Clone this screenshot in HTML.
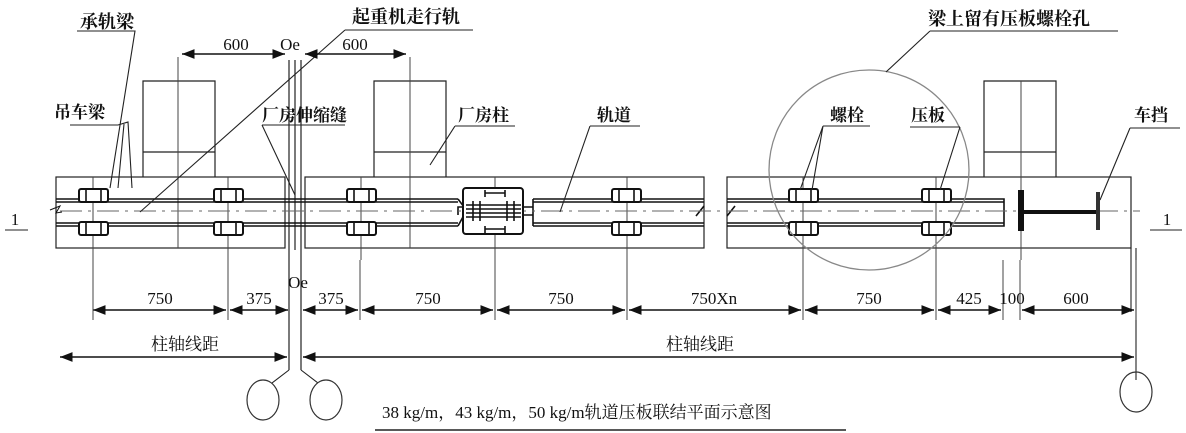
<!DOCTYPE html><html><head><meta charset="utf-8"><style>html,body{margin:0;padding:0;background:#fff}svg{display:block}text{font-family:"Liberation Serif","Noto Serif CJK SC","Noto Sans CJK SC",serif;fill:#111}</style></head><body>
<svg width="1186" height="433" viewBox="0 0 1186 433" xmlns="http://www.w3.org/2000/svg">
<defs><marker id="a" markerWidth="9" markerHeight="7" refX="9" refY="3.5" orient="auto-start-reverse"><path d="M0,0L9,3.5L0,7z" fill="#111"/></marker></defs>
<g stroke="#222" fill="none" stroke-width="1.2">
<rect x="56" y="177" width="229" height="71"/>
<rect x="305" y="177" width="399" height="71"/>
<rect x="727" y="177" width="404" height="71"/>
<path d="M143,177V81H215V177M143,152H215"/>
<path d="M374,177V81H446V177M374,152H446"/>
<path d="M984,177V81H1056V177M984,152H1056"/>
<path d="M178,57V248M410,57V248M1021,81V260M93,177V260M228,177V260M361,177V260M495,177V260M627,177V260M803,177V260M936,177V260" stroke="#444" stroke-width="1"/>
<path d="M289,60V370M295,60V250M301,60V370" stroke="#222"/>
<g stroke="#111" stroke-width="1.6">
<path d="M56,199H458M56,202H458M56,223H458M56,226H458"/>
<path d="M458,199L464,207H533M458,226L464,215H533M464,207H458V215" />
<path d="M533,199H704M533,202H704M533,223H704M533,226H704M533,199V226"/>
<path d="M727,199H1004V226H727M727,202H1004M727,223H1004"/>
<path d="M50,210L60,206L56,213L62,212" stroke-width="1"/>
<path d="M696,216L704,206M727,216L735,206"/>
</g>
<path d="M60,211H1140" stroke="#666" stroke-dasharray="22,6,3,6" stroke-width="1"/>
</g>
<g stroke="#111" stroke-width="2" fill="#fff">
<rect x="79" y="189" width="29" height="13" rx="2"/><rect x="79" y="222" width="29" height="13" rx="2"/>
<rect x="214" y="189" width="29" height="13" rx="2"/><rect x="214" y="222" width="29" height="13" rx="2"/>
<rect x="347" y="189" width="29" height="13" rx="2"/><rect x="347" y="222" width="29" height="13" rx="2"/>
<rect x="612" y="189" width="29" height="13" rx="2"/><rect x="612" y="222" width="29" height="13" rx="2"/>
<rect x="789" y="189" width="29" height="13" rx="2"/><rect x="789" y="222" width="29" height="13" rx="2"/>
<rect x="922" y="189" width="29" height="13" rx="2"/><rect x="922" y="222" width="29" height="13" rx="2"/>
<rect x="463" y="188" width="60" height="46" rx="3"/>
</g>
<g stroke="#111" stroke-width="1.6">
<path d="M86,190V201M101,190V201M86,223V234M101,223V234M221,190V201M236,190V201M221,223V234M236,223V234M354,190V201M369,190V201M354,223V234M369,223V234M619,190V201M634,190V201M619,223V234M634,223V234M796,190V201M811,190V201M796,223V234M811,223V234M929,190V201M944,190V201M929,223V234M944,223V234"/>
<path d="M466,205H521M466,209H521M466,213H521M466,217H521M473,201V221M480,201V221M507,201V221M514,201V221M485,193H505M485,229H505M485,190V197M505,190V197M485,226V233M505,226V233"/>
</g>
<rect x="1018" y="190" width="6" height="41" fill="#111"/>
<rect x="1024" y="210" width="72" height="4" fill="#111"/>
<rect x="1096" y="192" width="4" height="38" fill="#333"/>
<circle cx="869" cy="170" r="100" fill="none" stroke="#888" stroke-width="1.3"/>
<g stroke="#222" stroke-width="1.1" fill="none">
<path d="M77,31H135L110,188"/>
<path d="M345,30H473M345,30L140,212"/>
<path d="M70,125H118L128,122L132,188M124,124L118,188"/>
<path d="M262,125H345M262,125L295,195"/>
<path d="M455,126H515M455,126L430,165"/>
<path d="M590,126H640M590,126L560,212"/>
<path d="M930,31H1118M930,31L886,72"/>
<path d="M823,126H870M823,126L800,190M823,126L812,190"/>
<path d="M910,127H960M960,127L940,190"/>
<path d="M1130,128H1180M1130,128L1100,200"/>
<path d="M5,230H28M1150,230H1182"/>
<path d="M1131,248V312M1136,248V380"/>
<path d="M289,370L272,383M301,370L318,383"/>
<path d="M375,430H846" stroke-width="1.4"/>
</g>
<g stroke="#111" stroke-width="1.4" fill="none">
<path d="M182,54H285" marker-start="url(#a)" marker-end="url(#a)"/>
<path d="M305,54H406" marker-start="url(#a)" marker-end="url(#a)"/>
<path d="M93,310H226" marker-start="url(#a)" marker-end="url(#a)"/>
<path d="M230,310H288" marker-start="url(#a)" marker-end="url(#a)"/>
<path d="M303,310H358" marker-start="url(#a)" marker-end="url(#a)"/>
<path d="M362,310H493" marker-start="url(#a)" marker-end="url(#a)"/>
<path d="M497,310H625" marker-start="url(#a)" marker-end="url(#a)"/>
<path d="M629,310H801" marker-start="url(#a)" marker-end="url(#a)"/>
<path d="M805,310H934" marker-start="url(#a)" marker-end="url(#a)"/>
<path d="M938,310H1001" marker-start="url(#a)" marker-end="url(#a)"/>
<path d="M1022,310H1134" marker-start="url(#a)" marker-end="url(#a)"/>
<path d="M60,357H287" marker-start="url(#a)" marker-end="url(#a)"/>
<path d="M303,357H1134" marker-start="url(#a)" marker-end="url(#a)"/>
<path d="M1003,260V320M1020,260V320M1136,260V320M93,260V320M228,260V320M360,260V320M495,260V320M627,260V320M803,260V320M936,260V320" stroke="#444" stroke-width="1"/>
</g>
<g fill="none" stroke="#333" stroke-width="1.2"><ellipse cx="263" cy="400" rx="16" ry="20"/><ellipse cx="326" cy="400" rx="16" ry="20"/><ellipse cx="1136" cy="392" rx="16" ry="20"/></g>
<g font-size="18" font-weight="bold">
<text x="80" y="28">承轨梁</text>
<text x="352" y="23">起重机走行轨</text>
<text x="54" y="118" font-size="17">吊车梁</text>
<text x="262" y="121" font-size="17">厂房伸缩缝</text>
<text x="458" y="121" font-size="17">厂房柱</text>
<text x="597" y="121" font-size="17">轨道</text>
<text x="928" y="25">梁上留有压板螺栓孔</text>
<text x="830" y="121" font-size="17">螺栓</text>
<text x="911" y="121" font-size="17">压板</text>
<text x="1134" y="121" font-size="17">车挡</text>
</g>
<g font-size="17" text-anchor="middle">
<text x="236" y="50">600</text><text x="290" y="50">Oe</text><text x="355" y="50">600</text>
<text x="298" y="288">Oe</text>
<text x="160" y="304">750</text><text x="259" y="304">375</text><text x="331" y="304">375</text><text x="428" y="304">750</text><text x="561" y="304">750</text><text x="714" y="304">750Xn</text><text x="869" y="304">750</text><text x="969" y="304">425</text><text x="1012" y="304">100</text><text x="1076" y="304">600</text>
<text x="185" y="350">柱轴线距</text><text x="700" y="350">柱轴线距</text>
<text x="15" y="225">1</text><text x="1167" y="225">1</text>
</g>
<text x="382" y="418" font-size="17">38 kg/m，43 kg/m，50 kg/m轨道压板联结平面示意图</text>
</svg></body></html>
